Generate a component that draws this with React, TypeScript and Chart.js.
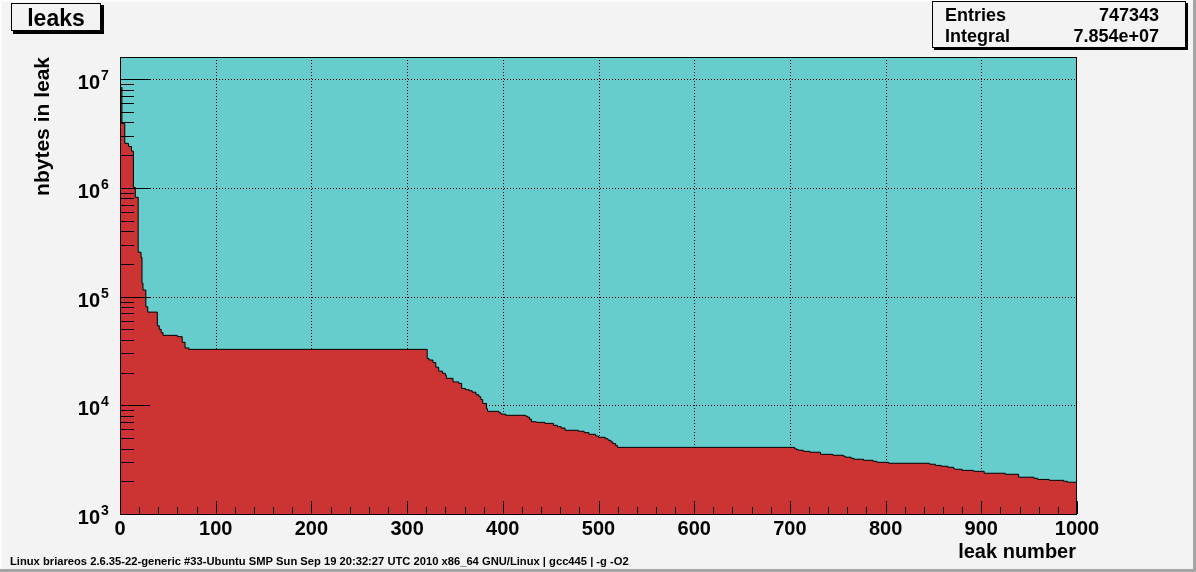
import React, { useEffect, useRef } from "react";
import { Chart, registerables } from "chart.js";

Chart.register(...registerables);

// histogram step levels: first bin of each level and its content
const binStart = [
  0, 2, 5, 9, 12, 14, 16, 19, 22, 23, 24, 27, 29, 39, 41, 43, 45, 60, 65, 68, 72,
  321, 323, 327, 330, 333, 337, 340, 341, 348, 354, 357, 361, 365, 368, 372, 375, 377, 379, 383, 384,
  396, 398, 403, 424, 426, 428, 430, 435, 444, 453, 457, 461, 465, 479, 485, 490, 497, 500, 507, 510,
  513, 515, 518, 520, 705, 707, 709, 714, 721, 732, 745, 756, 758, 764, 767, 777, 787, 791, 803, 846,
  852, 858, 865, 871, 872, 880, 892, 903, 925, 939, 955, 959, 971, 986, 990, 1000,
];
const nbytes = [
  8.4e6, 3.9e6, 2.57e6, 2.4e6, 2.18e6, 1.01e6, 8.2e5, 2.56e5, 2.3e5, 1.33e5, 1.15e5, 8.07e4, 7.2e4, 5.4e4, 5.0e4, 4.66e4, 4.4e4, 4.28e4, 3.8e4, 3.37e4, 3.27e4,
  2.69e4, 2.61e4, 2.47e4, 2.24e4, 2.06e4, 1.97e4, 1.89e4, 1.77e4, 1.64e4, 1.59e4, 1.43e4, 1.39e4, 1.36e4, 1.32e4, 1.25e4, 1.2e4, 1.13e4, 1.04e4, 9.3e3, 8.8e3,
  8.55e3, 8.3e3, 8.09e3, 7.93e3, 7.76e3, 7.43e3, 7.06e3, 6.97e3, 6.82e3, 6.54e3, 6.36e3, 6.18e3, 5.89e3, 5.77e3, 5.6e3, 5.41e3, 5.22e3, 5.08e3, 4.93e3, 4.77e3,
  4.6e3, 4.44e3, 4.25e3, 4.1e3, 3.98e3, 3.91e3, 3.86e3, 3.77e3, 3.7e3, 3.54e3, 3.47e3, 3.4e3, 3.33e3, 3.25e3, 3.19e3, 3.12e3, 3.05e3, 2.99e3, 2.93e3, 2.87e3,
  2.8e3, 2.75e3, 2.69e3, 2.63e3, 2.58e3, 2.52e3, 2.47e3, 2.37e3, 2.32e3, 2.18e3, 2.13e3, 2.08e3, 2.04e3, 2.0e3, 1.96e3, 1.96e3,
];

const xTickValues = [0, 100, 200, 300, 400, 500, 600, 700, 800, 900, 1000];
const xTickLabels = ["0", "100", "200", "300", "400", "500", "600", "700", "800", "900", "1000"];
const yDecades = [3, 4, 5, 6, 7];
const yTickLabels = ["3", "4", "5", "6", "7"];

const histTitle = "leaks";
const xTitle = "leak number";
const yTitle = "nbytes in leak";
const statNames = ["Entries", "Integral"];
const statValues = ["747343", "7.854e+07"];
const footer =
  "Linux briareos 2.6.35-22-generic #33-Ubuntu SMP Sun Sep 19 20:32:27 UTC 2010 x86_64 GNU/Linux | gcc445 | -g -O2";

const W = 1196;
const H = 572;
const BG = "#F3F3F3";
const FONT = '"Liberation Sans", Arial, Helvetica, sans-serif';

const rootPlugin = {
  id: "rootStyle",
  beforeDraw(chart: any) {
    const ctx = chart.ctx;
    const { left, top, right, bottom } = chart.chartArea;
    ctx.save();
    ctx.fillStyle = BG;
    ctx.fillRect(0, 0, W, H);
    // canvas bevel border
    ctx.fillStyle = "#FCFCFC";
    ctx.fillRect(0, 0, W, 2);
    ctx.fillRect(0, 0, 2, H);
    ctx.fillStyle = "#A4A4A4";
    ctx.fillRect(W - 3, 0, 3, H);
    ctx.fillRect(0, H - 3, W, 3);
    // frame fill
    ctx.fillStyle = "#66CCCC";
    ctx.fillRect(left, top, right - left, bottom - top);
    // dotted grid
    const xs = chart.scales.x;
    const ys = chart.scales.y;
    ctx.strokeStyle = "#000";
    ctx.lineWidth = 1;
    ctx.setLineDash([1, 2]);
    ctx.beginPath();
    for (const v of xTickValues) {
      if (v === 0 || v === 1000) continue;
      const px = Math.round(xs.getPixelForValue(v)) + 0.5;
      ctx.moveTo(px, top);
      ctx.lineTo(px, bottom);
    }
    for (const d of yDecades) {
      if (d === 3) continue;
      const py = Math.round(ys.getPixelForValue(Math.pow(10, d))) + 0.5;
      ctx.moveTo(left, py);
      ctx.lineTo(right, py);
    }
    ctx.stroke();
    ctx.restore();
  },
  afterDatasetsDraw(chart: any) {
    const ctx = chart.ctx;
    const { left, top, right, bottom } = chart.chartArea;
    const xs = chart.scales.x;
    const ys = chart.scales.y;
    ctx.save();
    ctx.strokeStyle = "#000";
    ctx.lineWidth = 1;
    ctx.setLineDash([]);
    ctx.beginPath();
    // x ticks (major every 100, minor every 20), pointing up
    for (let v = 0; v <= 1000; v += 20) {
      const px = Math.round(xs.getPixelForValue(v)) + 0.5;
      const len = v % 100 === 0 ? 13 : 7;
      ctx.moveTo(px, bottom);
      ctx.lineTo(px, bottom - len);
    }
    // y ticks (log)
    const yMax = ys.max;
    for (const d of yDecades) {
      for (let m = 1; m <= 9; m++) {
        const val = m * Math.pow(10, d);
        if (val > yMax) break;
        const py = Math.round(ys.getPixelForValue(val)) + 0.5;
        const len = m === 1 ? 30 : 14;
        ctx.moveTo(left, py);
        ctx.lineTo(left + len, py);
      }
    }
    ctx.stroke();
    // frame
    ctx.strokeRect(left + 0.5, top + 0.5, right - left - 1, bottom - top);
    ctx.restore();
  },
  afterDraw(chart: any) {
    const ctx = chart.ctx;
    const xs = chart.scales.x;
    const ys = chart.scales.y;
    const { top, right, bottom } = chart.chartArea;
    ctx.save();
    ctx.fillStyle = "#000";
    // x tick labels
    ctx.font = `bold 20px ${FONT}`;
    ctx.textAlign = "center";
    ctx.textBaseline = "alphabetic";
    xTickValues.forEach((v, i) => {
      ctx.fillText(xTickLabels[i], xs.getPixelForValue(v), bottom + 21);
    });
    // y tick labels 10^n
    yDecades.forEach((d, i) => {
      const py = ys.getPixelForValue(Math.pow(10, d));
      ctx.font = `bold 20px ${FONT}`;
      ctx.textAlign = "right";
      ctx.fillText("10", 100, py + 10);
      ctx.font = `bold 14px ${FONT}`;
      ctx.textAlign = "left";
      ctx.fillText(yTickLabels[i], 101, py + 1);
    });
    // axis titles
    ctx.font = `bold 20px ${FONT}`;
    ctx.textAlign = "right";
    ctx.fillText(xTitle, right - 1, 558);
    ctx.save();
    ctx.font = `bold 21px ${FONT}`;
    ctx.translate(49, top);
    ctx.rotate(-Math.PI / 2);
    ctx.textAlign = "right";
    ctx.fillText(yTitle, 0, 0);
    ctx.restore();
    // title box
    ctx.fillStyle = "#000";
    ctx.fillRect(13, 5, 91, 29);
    ctx.fillStyle = BG;
    ctx.fillRect(11, 3, 90, 28);
    ctx.strokeStyle = "#000";
    ctx.lineWidth = 1;
    ctx.strokeRect(11.5, 3.5, 89, 27);
    ctx.fillStyle = "#000";
    ctx.font = `bold 23px ${FONT}`;
    ctx.textAlign = "center";
    ctx.fillText(histTitle, 56, 26);
    // stats box
    ctx.fillStyle = "#000";
    ctx.fillRect(934, 3, 254, 47);
    ctx.fillStyle = BG;
    ctx.fillRect(932, 1, 254, 47);
    ctx.strokeRect(932.5, 1.5, 253, 46);
    ctx.fillStyle = "#000";
    ctx.font = `bold 18px ${FONT}`;
    statNames.forEach((n, i) => {
      const by = 21 + i * 21;
      ctx.textAlign = "left";
      ctx.fillText(n, 945, by);
      ctx.textAlign = "right";
      ctx.fillText(statValues[i], 1159, by);
    });
    // footer
    ctx.font = `bold 11.2px ${FONT}`;
    ctx.textAlign = "left";
    ctx.fillText(footer, 10, 565);
    ctx.restore();
  },
};

export default function App() {
  const ref = useRef<HTMLCanvasElement | null>(null);
  useEffect(() => {
    if (!ref.current) return;
    const data = binStart.map((x, i) => ({ x, y: nbytes[i] }));
    const chart = new Chart(ref.current, {
      type: "line",
      data: {
        datasets: [
          {
            data,
            stepped: true,
            fill: "start",
            backgroundColor: "#CC3333",
            borderColor: "#000000",
            borderWidth: 1,
            pointRadius: 0,
            tension: 0,
          } as any,
        ],
      },
      options: {
        animation: false,
        responsive: false,
        devicePixelRatio: 1,
        layout: { padding: { left: 120, top: 57, right: 119, bottom: 58 } },
        plugins: { legend: { display: false }, tooltip: { enabled: false } },
        events: [],
        scales: {
          x: { type: "linear", min: 0, max: 1000, display: false },
          y: { type: "logarithmic", min: 1000, max: 1.6e7, display: false },
        },
      },
      plugins: [rootPlugin],
    });
    return () => chart.destroy();
  }, []);
  return (
    <div style={{ position: "absolute", left: 0, top: 0, width: W, height: H }}>
      <canvas ref={ref} width={W} height={H} style={{ display: "block", width: W, height: H }} />
    </div>
  );
}
